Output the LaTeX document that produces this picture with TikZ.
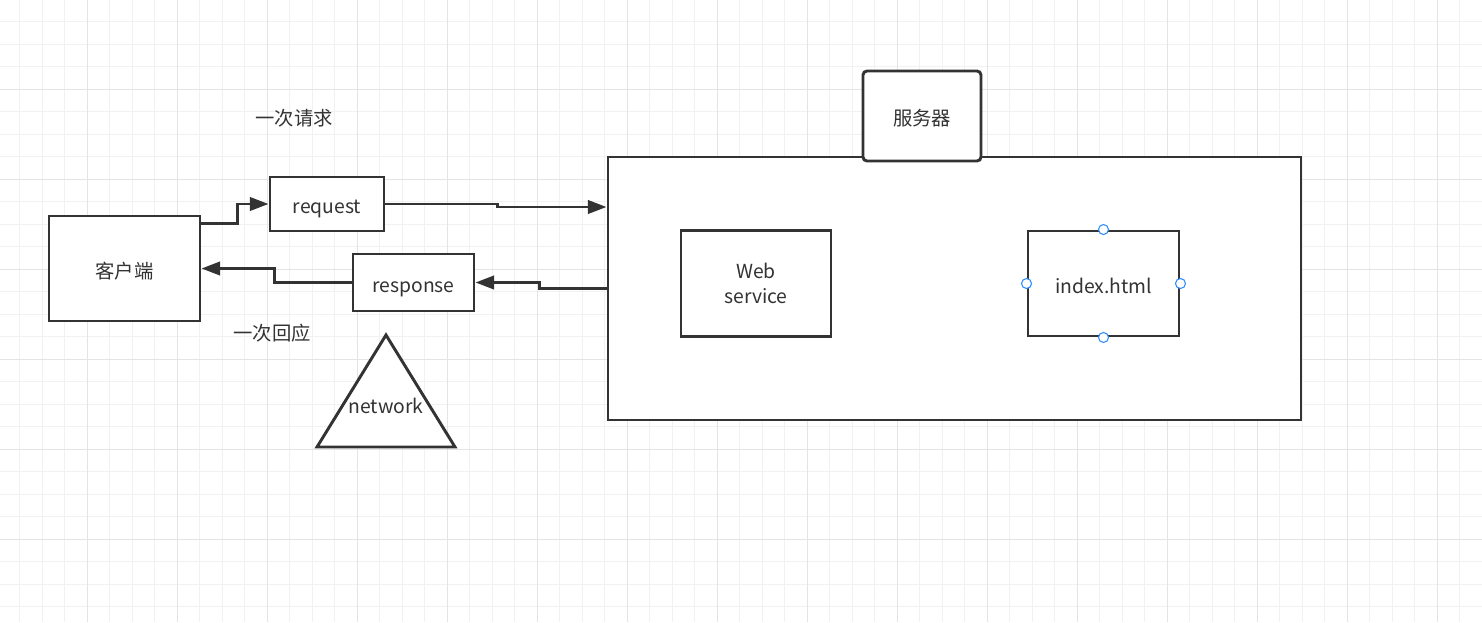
\documentclass[tikz,border=0pt]{standalone}
\usepackage{fontspec}
\setmainfont{Noto Sans CJK SC}
\usetikzlibrary{arrows.meta,calc}
\definecolor{inkgray}{HTML}{333333}
\definecolor{gridminor}{HTML}{F1F1F1}
\definecolor{gridmajor}{HTML}{E4E4E4}
\definecolor{handleblue}{HTML}{2D8CFF}
\def\px{0.75pt}

\begin{document}
\begin{tikzpicture}[x=\px, y=-\px, line join=miter]
  \tikzset{
    box/.style={draw=inkgray, line width=2.2pt, fill=white, inner sep=0pt,
      text=inkgray, align=center, font=\fontsize{14.5}{18.5}\selectfont},
    onerow/.style={text height=15pt, text depth=0.3pt},
    note/.style={text=inkgray, inner sep=0pt, font=\fontsize{14.5}{18.5}\selectfont},
    flow/.style={draw=inkgray, line width=2.2pt, -{Triangle[length=14pt,width=10pt]}},
    handle/.style={circle, draw=handleblue, fill=white, line width=0.8pt,
      inner sep=0pt, minimum size=7.5pt},
  }
  % canvas
  \fill[white] (0,0) rectangle (1482,622);
  \useasboundingbox (0,0) rectangle (1482,622);

  % grid paper
  \foreach \gx in {19.5,42,...,1482}
    \draw[gridminor, line width=\px] (\gx,0) -- (\gx,622);
  \foreach \gy in {21.5,44,...,622}
    \draw[gridminor, line width=\px] (0,\gy) -- (1482,\gy);
  \foreach \gx in {87,177,...,1437}
    \draw[gridmajor, line width=\px] (\gx,0) -- (\gx,622);
  \foreach \gy in {89,179,...,539}
    \draw[gridmajor, line width=\px] (0,\gy) -- (1482,\gy);

  % client side
  \node[box, onerow, minimum width=151*\px, minimum height=105*\px] (client) at (124.5,268.5) {客户端};
  \node[box, onerow, minimum width=114*\px, minimum height=54*\px] (request) at (327,204) {request};
  \node[box, onerow, minimum width=121*\px, minimum height=57*\px] (response) at (413.5,282.5) {response};
  \node[note] (reqlabel) at (294,118) {一次请求};
  \node[note] (resplabel) at (272,333) {一次回应};

  % network
  \draw[draw=inkgray, line width=2.2pt, fill=white] (386,335) -- (455,447) -- (317,447) -- cycle;
  \node[note] (network) at (386,406) {network};

  % server
  \node[box, minimum width=693*\px, minimum height=263*\px] (server) at (954.5,288.5) {};
  \node[box, onerow, rounded corners=3pt, minimum width=118*\px, minimum height=90*\px] (servertab) at (922,116) {服务器};
  \node[box, minimum width=150*\px, minimum height=106*\px] (websvc) at (756,283.5) {Web\\service};
  \node[box, onerow, minimum width=151*\px, minimum height=105*\px] (index) at (1103.5,283.5) {index.html};

  % selection handles
  \node[handle] (idxn) at (index.north) {};
  \node[handle] (idxs) at (index.south) {};
  \node[handle] (idxw) at (index.west) {};
  \node[handle] (idxe) at (index.east) {};

  % connectors
  \draw[flow] ($(client.east)+(0,-45)$) -- ++(36,0) |- (request.west);
  \draw[flow] (request.east) -- ++(112,0) -- ++(0,3) -- ($(request.east -| server.west)+(0,3)$);
  \draw[flow] (server.west) -- ++(-67,0) |- (response.east);
  \draw[flow] (response.west) -- ++(-77,0) |- (client.east);
\end{tikzpicture}
\end{document}
